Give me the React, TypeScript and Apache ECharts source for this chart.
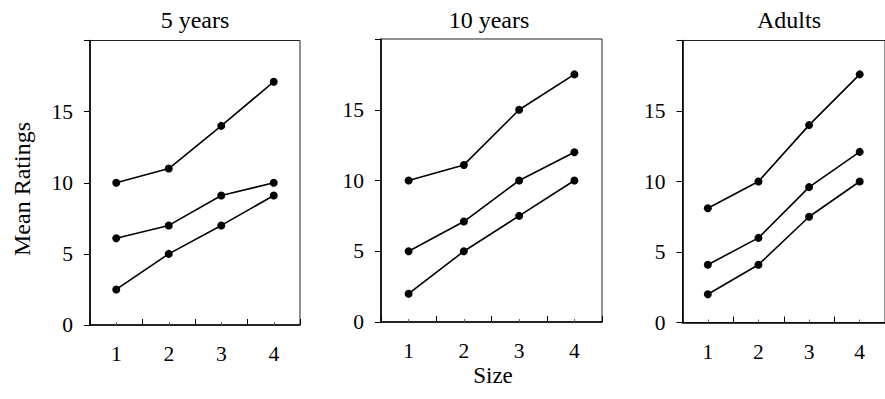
import React, { useEffect, useRef } from "react";
import * as echarts from "echarts";

const sizes = ["1", "2", "3", "4"];
const panelTitles = ["5 years", "10 years", "Adults"];
const yTicks = [0, 5, 10, 15, 20];

const fiveTop = [10, 11, 14, 17.1];
const fiveMid = [6.1, 7, 9.1, 10];
const fiveLow = [2.5, 5, 7, 9.1];

const tenTop = [10, 11.1, 15, 17.5];
const tenMid = [5, 7.1, 10, 12];
const tenLow = [2, 5, 7.5, 10];

const adultTop = [8.1, 10, 14, 17.6];
const adultMid = [4.1, 6, 9.6, 12.1];
const adultLow = [2, 4.1, 7.5, 10];

const panels = [
  [fiveTop, fiveMid, fiveLow],
  [tenTop, tenMid, tenLow],
  [adultTop, adultMid, adultLow],
];

const FONT = "Liberation Serif";

export default function App() {
  const ref = useRef<HTMLDivElement>(null);
  useEffect(() => {
    if (!ref.current) return;
    const chart = echarts.init(ref.current, null, { renderer: "svg" });
    const grids = [
      { left: 90, top: 40.5, width: 210, height: 284.5 },
      { left: 381, top: 39, width: 221, height: 283 },
      { left: 682.5, top: 40.5, width: 210, height: 282 },
    ];
    const titleCenters = [190, 484, 784];
    const xAxes: any[] = [];
    const yAxes: any[] = [];
    const series: any[] = [];
    grids.forEach((g, i) => {
      xAxes.push({
        type: "category",
        gridIndex: i,
        data: sizes,
        boundaryGap: true,
        axisLine: { show: true, lineStyle: { color: "#000", width: 1.6 } },
        axisTick: { show: true, inside: true, length: 6, lineStyle: { color: "#000", width: 1 } },
        axisLabel: { show: true, margin: 18, color: "#000", fontFamily: FONT, fontSize: 21.5 },
        splitLine: { show: false },
      });
      xAxes.push({
        type: "category",
        gridIndex: i,
        data: sizes,
        boundaryGap: true,
        position: "bottom",
        axisLine: { show: false },
        axisTick: { show: true, inside: true, alignWithLabel: true, length: 3, lineStyle: { color: "#666", width: 1 } },
        axisLabel: { show: false },
        splitLine: { show: false },
      });
      yAxes.push({
        type: "value",
        gridIndex: i,
        min: yTicks[0],
        max: yTicks[yTicks.length - 1],
        interval: 5,
        axisLine: { show: true, lineStyle: { color: "#000", width: 1.6 } },
        axisTick: { show: true, inside: false, length: 6, lineStyle: { color: "#000", width: 1 } },
        axisLabel: {
          show: true,
          margin: 17,
          color: "#000",
          fontFamily: FONT,
          fontSize: 21.5,
          formatter: (v: number) => (v === 20 ? "" : String(v)),
        },
        splitLine: { show: false },
      });
      panels[i].forEach((d) => {
        series.push({
          type: "line",
          xAxisIndex: i * 2,
          yAxisIndex: i,
          data: d,
          symbol: "circle",
          symbolSize: 8,
          lineStyle: { color: "#000", width: 1.6 },
          itemStyle: { color: "#000" },
          silent: true,
        });
      });
    });
    chart.setOption({
      animation: false,
      backgroundColor: "#fff",
      grid: grids.map((g) => ({
        ...g,
        show: true,
        borderColor: "#222",
        borderWidth: 1,
        backgroundColor: "transparent",
        containLabel: false,
      })),
      title: panelTitles.map((t, i) => ({
        text: t,
        left: titleCenters[i],
        top: 3,
        textAlign: "center",
        textStyle: { fontFamily: FONT, fontSize: 24, fontWeight: "normal", color: "#000" },
      })),
      xAxis: xAxes,
      yAxis: yAxes,
      series,
      graphic: [
        {
          type: "text",
          x: 22,
          y: 189,
          rotation: Math.PI / 2,
          style: {
            text: "Mean Ratings",
            fontFamily: FONT,
            fontSize: 24,
            fill: "#000",
            align: "center",
            verticalAlign: "middle",
          },
        },
        {
          type: "text",
          x: 493,
          y: 375,
          style: {
            text: "Size",
            fontFamily: FONT,
            fontSize: 23,
            fill: "#000",
            align: "center",
            verticalAlign: "middle",
          },
        },
      ],
    });
    return () => chart.dispose();
  }, []);
  return (
    <div
      ref={ref}
      style={{ position: "absolute", left: 0, top: 0, width: 885, height: 399 }}
    />
  );
}
